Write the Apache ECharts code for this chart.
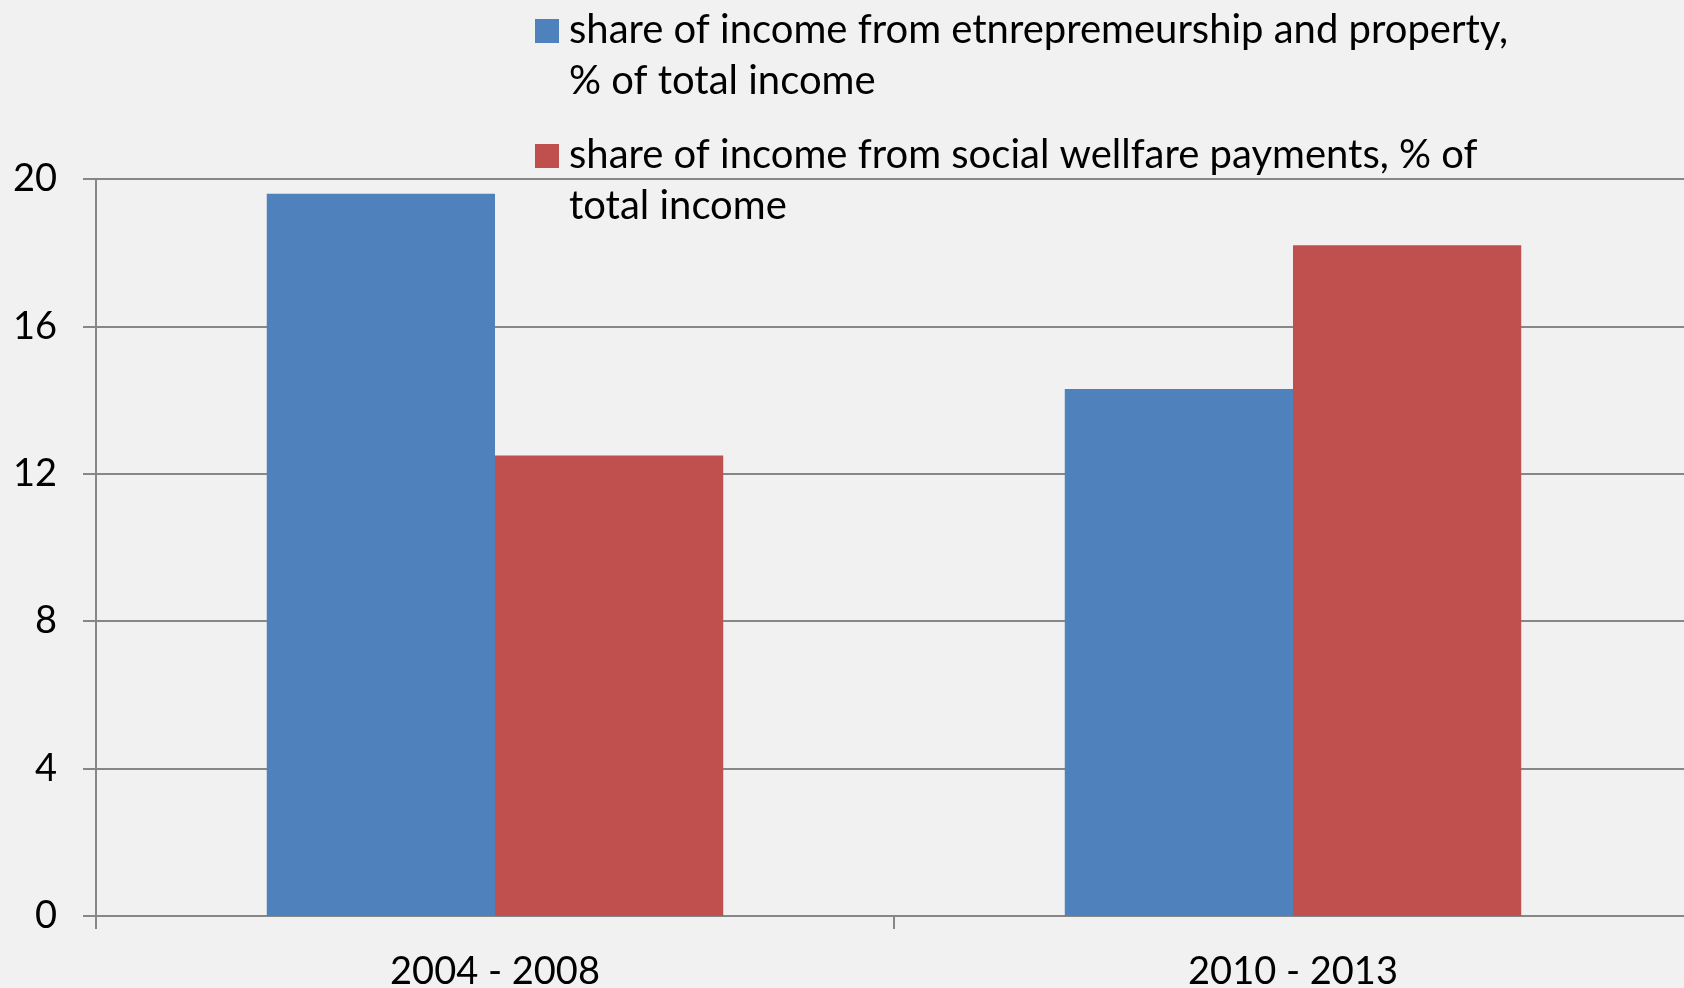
<!DOCTYPE html>
<html>
<head>
<meta charset="utf-8">
<title>Income shares</title>
<script src="https://cdn.jsdelivr.net/npm/echarts@6/dist/echarts.min.js"></script>
<style>
  html, body { margin: 0; padding: 0; background: #f1f1f1; }
  #main { width: 1684px; height: 988px; }
</style>
</head>
<body>
<div id="main"></div>
<script>
// periods on the x axis
var periods = ['2004 - 2008', '2010 - 2013'];
// share of income, % of total income
var entrepreneurshipShare = [19.6, 14.3];
var welfareShare = [12.5, 18.2];
var seriesNames = [
  'share of income from etnrepremeurship and property, % of total income',
  'share of income from social wellfare payments, % of total income'
];
// legend text, wrapped the way the original chart wraps it
var legendLines = [
  ['share of income from etnrepremeurship and property,', '% of total income'],
  ['share of income from social wellfare payments, % of', 'total income']
];
var yMin = 0, yMax = 20, yStep = 4;

var gray = '#878787';
var font = 'Lato';

var myChart = echarts.init(document.getElementById('main'));
myChart.setOption({
  backgroundColor: '#f1f1f1',
  animation: false,
  textStyle: { fontFamily: font },
  grid: {
    left: 96,
    top: 179,
    width: 1596,
    height: 737,
    outerBoundsMode: 'none'
  },
  legend: {
    orient: 'vertical',
    left: 535,
    top: 4,
    padding: 0,
    itemGap: 22,
    itemWidth: 29,
    itemHeight: 103,
    // square sits next to the first line of the wrapped text
    icon: 'path://M0 0M29 103M0 15h24v24H0z',
    data: seriesNames,
    formatter: function (name) {
      return legendLines[seriesNames.indexOf(name)].join('\n');
    },
    textStyle: {
      fontFamily: font,
      fontSize: 40,
      lineHeight: 51.5,
      color: '#000'
    }
  },
  xAxis: {
    type: 'category',
    data: periods,
    axisLine: { lineStyle: { color: gray, width: 2 } },
    axisTick: { show: true, length: 13, lineStyle: { color: gray, width: 2 } },
    axisLabel: { fontFamily: font, fontSize: 38, color: '#000', margin: 37 }
  },
  yAxis: {
    type: 'value',
    min: yMin,
    max: yMax,
    interval: yStep,
    axisLine: { show: true, lineStyle: { color: gray, width: 2 } },
    axisTick: { show: true, length: 13, lineStyle: { color: gray, width: 2 } },
    splitLine: { lineStyle: { color: gray, width: 2 } },
    axisLabel: { fontFamily: font, fontSize: 38, color: '#000', margin: 39 }
  },
  series: [
    {
      name: seriesNames[0],
      type: 'bar',
      data: entrepreneurshipShare,
      itemStyle: { color: '#4f81bd' },
      barGap: '0%',
      barCategoryGap: '42.8%'
    },
    {
      name: seriesNames[1],
      type: 'bar',
      data: welfareShare,
      itemStyle: { color: '#c0504d' },
      barGap: '0%',
      barCategoryGap: '42.8%'
    }
  ]
});
</script>
</body>
</html>
